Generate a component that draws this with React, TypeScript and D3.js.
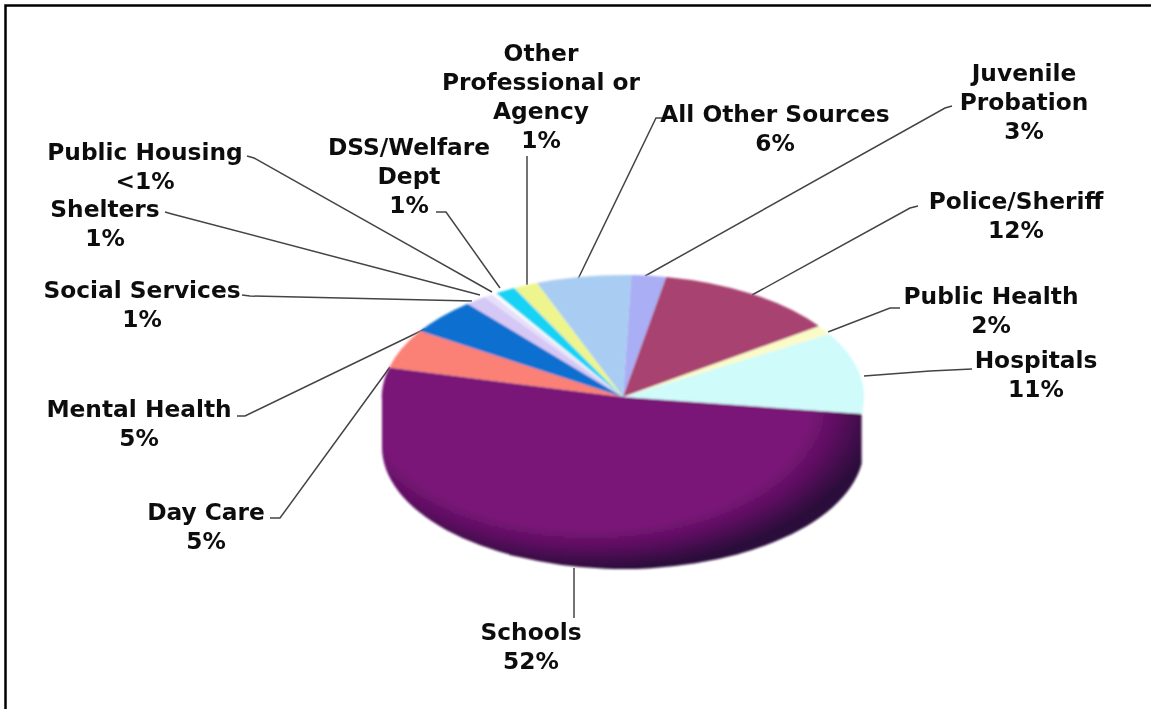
import React from "react";
import * as d3 from "d3";

const W = 1151, H = 709;
// clockwise from the top of the pie
const categories = ["All Other Sources","Juvenile Probation","Police/Sheriff","Public Health","Hospitals","Schools","Day Care","Mental Health","Social Services","Shelters","Public Housing","DSS/Welfare Dept","Other Professional or Agency"];
const shares = [6.4,2.3,12.3,1.2,10.9,51.7,5.2,4.8,1.4,0.6,0.3,1.4,1.6];
const colors = ["#a9cdf2","#a9aef5","#a8436f","#fbfbc8","#cffbfb","url(#schoolsFill)","#fb8075","#0a6fd0","#d5c8f5","#e6e0fa","#ffffff","#18d2f5","#eef58c"];
const labelLines = [
  ["All Other Sources","6%"],
  ["Juvenile","Probation","3%"],
  ["Police/Sheriff","12%"],
  ["Public Health","2%"],
  ["Hospitals","11%"],
  ["Schools","52%"],
  ["Day Care","5%"],
  ["Mental Health","5%"],
  ["Social Services","1%"],
  ["Shelters","1%"],
  ["Public Housing","<1%"],
  ["DSS/Welfare","Dept","1%"],
  ["Other","Professional or","Agency","1%"],
];
const labelCenterX = [775,1024,1016,991,1036,531,206,139,142,105,145,409,541];
const labelFirstY = [122,81,209,304,368,640,520,417,298,217,160,155,61];
const leaders: number[][][] = [
  [[662,118],[656,118],[578,279]],
  [[952,106],[945,108],[645,276]],
  [[918,206],[910,208],[752,295]],
  [[900,308],[890,308],[828,332]],
  [[972,369],[930,371],[864,376]],
  [[574,618],[574,568]],
  [[270,518],[280,518],[390,367]],
  [[237,416],[245,416],[425,329]],
  [[242,295],[250,296],[472,301]],
  [[165,212],[172,214],[480,295]],
  [[247,156],[254,158],[492,292]],
  [[436,212],[446,212],[500,288]],
  [[527,156],[527,285]],
];

const cx = 623, cy = 397, rx = 241, ry = 122, depth = 50;
const LH = 29;

export default function App() {
  const pie = d3.pie<number>().sort(null).value(d => d).startAngle(-21 * Math.PI / 180).endAngle(339 * Math.PI / 180);
  const arcs = pie(shares);
  const arc = d3.arc<d3.PieArcDatum<number>>().innerRadius(0).outerRadius(1);
  const line = d3.line();
  const schools = arcs[5];
  const d = depth / ry;
  // silhouette of the Schools wall, in the unit space of the pie
  const x0 = Math.sin(schools.startAngle), y0 = -Math.cos(schools.startAngle);
  const wall = d3.path();
  wall.moveTo(x0, y0);
  wall.lineTo(x0, y0 + d);
  wall.arc(0, d, 1, schools.startAngle - Math.PI / 2, Math.PI);
  wall.lineTo(-1, 0);
  wall.closePath();
  // centre of the shading, in the unit space of the pie
  const gcx = (590 - cx) / rx, gcy = (400 - cy) / ry;
  return (
    <svg width={W} height={H} style={{ position: "absolute", left: 0, top: 0, background: "#fff" }}>
      <defs>
        <radialGradient id="schoolsFill" gradientUnits="userSpaceOnUse" cx={0} cy={0} r={1} gradientTransform={`translate(${gcx},${gcy}) scale(${290 / rx},${170 / ry})`}>
          <stop offset="0.76" stopColor="#7a1478" />
          <stop offset="0.87" stopColor="#5a0f5e" />
          <stop offset="1" stopColor="#2a0a3a" />
        </radialGradient>
        <filter id="soft" x="-5%" y="-5%" width="110%" height="110%">
          <feGaussianBlur stdDeviation="0.9" />
        </filter>
        <filter id="softText" x="-5%" y="-5%" width="110%" height="110%">
          <feGaussianBlur stdDeviation="0.45" />
        </filter>
      </defs>
      <path d={`M5.5,${H}V5.5H${W}`} fill="none" stroke="#000" strokeWidth={2.5} />
      {leaders.map((pts, i) => (
        <path key={i} d={line(pts as [number, number][]) as string} fill="none" stroke="#444" strokeWidth={1.5} />
      ))}
      <g filter="url(#soft)">
        <g transform={`translate(${cx},${cy}) scale(${rx},${ry})`}>
          <path d={wall.toString()} fill="url(#schoolsFill)" />
          {arcs.map((a, i) => (
            <path key={i} d={arc(a) as string} fill={colors[i]} />
          ))}
        </g>
      </g>
      <g fontFamily="'DejaVu Sans', Verdana, sans-serif" fontWeight={700} fontSize={23.3} fill="#111" textAnchor="middle" filter="url(#softText)">
        {categories.map((c, i) => (
          <text key={c} x={labelCenterX[i]} y={labelFirstY[i]}>
            {labelLines[i].map((l, j) => (
              <tspan key={j} x={labelCenterX[i]} dy={j === 0 ? 0 : LH}>{l}</tspan>
            ))}
          </text>
        ))}
      </g>
    </svg>
  );
}
